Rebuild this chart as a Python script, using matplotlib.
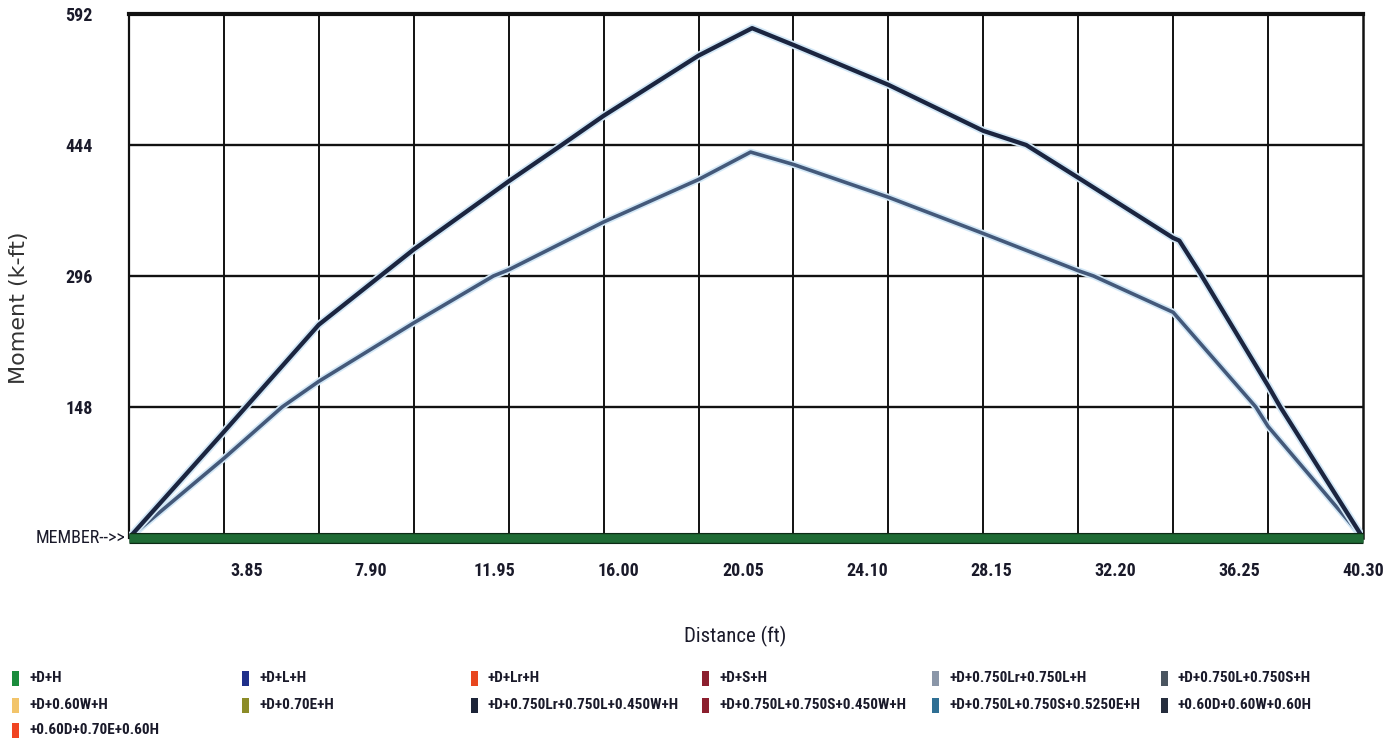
import matplotlib
matplotlib.use("Agg")
import matplotlib.pyplot as plt
from matplotlib import font_manager
from matplotlib.patches import Rectangle
import matplotlib.patheffects as pe

# ---------------- data ----------------
x_upper = [0, 3.1, 6.2, 9.3, 12.4, 14.13, 15.5, 18.6, 20.35, 21.7,
           24.8, 27.9, 29.3, 31.0, 34.1, 34.3, 35.0, 37.2, 37.6, 40.3]
y_upper = [0, 120, 241, 326, 403, 444, 477, 545, 576, 557,
           512, 460, 444, 407, 339, 336, 298, 172, 148, 0]

x_lower = [0, 3.1, 5.0, 6.2, 9.3, 11.9, 12.4, 15.5, 18.6, 20.3, 21.7,
           24.8, 27.9, 31.0, 31.5, 34.1, 36.8, 37.2, 40.3]
y_lower = [0, 90, 148, 177, 243, 296, 303, 357, 405, 436, 422,
           385, 344, 302, 296, 255, 148, 126, 0]

x_tick_vals = [3.85, 7.90, 11.95, 16.00, 20.05, 24.10, 28.15, 32.20, 36.25, 40.30]
x_tick_labels = ["3.85", "7.90", "11.95", "16.00", "20.05", "24.10", "28.15",
                 "32.20", "36.25", "40.30"]
x_grid_step = 3.1
x_max = 40.30
y_tick_vals = [148, 296, 444, 592]
y_tick_labels = ["148", "296", "444", "592"]
y_max = 592

legend_labels = [
    "+D+H", "+D+L+H", "+D+Lr+H", "+D+S+H", "+D+0.750Lr+0.750L+H", "+D+0.750L+0.750S+H",
    "+D+0.60W+H", "+D+0.70E+H", "+D+0.750Lr+0.750L+0.450W+H", "+D+0.750L+0.750S+0.450W+H",
    "+D+0.750L+0.750S+0.5250E+H", "+0.60D+0.60W+0.60H",
    "+0.60D+0.70E+0.60H",
]
legend_colors = [
    "#1a8c3c", "#1f2f8a", "#e8461e", "#8c1f2e", "#8a96a8", "#4a5560",
    "#f2c46a", "#8c8c28", "#1c2438", "#8c1f2e", "#2f6f94", "#252d3d",
    "#f04422",
]

# ---------------- fonts ----------------
def pick(fams):
    for f in fams:
        try:
            font_manager.findfont(font_manager.FontProperties(family=f),
                                  fallback_to_default=False)
            return f
        except Exception:
            pass
    return "DejaVu Sans"

narrow = pick(["Liberation Sans Narrow", "Roboto Condensed", "DejaVu Sans"])
wide = pick(["DejaVu Sans"])

W, H = 1389, 744
fig = plt.figure(figsize=(W / 100, H / 100), dpi=100)
fig.patch.set_facecolor("white")

L, R, T, B = 129, 1363, 14, 538
ax = fig.add_axes([L / W, 1 - B / H, (R - L) / W, (B - T) / H])
ax.set_xlim(0, x_max)
ax.set_ylim(0, y_max)

# grid
for k in range(1, 13):
    ax.axvline(k * x_grid_step, color="#111111", lw=1.4, zorder=1)
for v in y_tick_vals[:-1]:
    ax.axhline(v, color="#111111", lw=1.7, zorder=1)

for s in ax.spines.values():
    s.set_color("#111111")
ax.spines["top"].set_linewidth(3.0)
ax.spines["left"].set_linewidth(1.6)
ax.spines["right"].set_linewidth(1.8)
ax.spines["bottom"].set_visible(False)

# curves
ax.plot(x_lower, y_lower, color="#44597a", lw=2.6, zorder=3, solid_joinstyle="round",
        path_effects=[pe.Stroke(linewidth=5.0, foreground="#d3e8f7"), pe.Normal()])
ax.plot(x_upper, y_upper, color="#1b2540", lw=3.1, zorder=4, solid_joinstyle="round",
        path_effects=[pe.Stroke(linewidth=5.6, foreground="#d3e8f7"), pe.Normal()])

# member band
ax.axhline(0, color="#1f6b35", lw=6.2, zorder=5, clip_on=False, solid_capstyle="butt",
           path_effects=[pe.Stroke(linewidth=8.0, foreground="#0d2a16",
                                   capstyle="butt"), pe.Normal()])

# ticks
ax.set_xticks(x_tick_vals)
ax.set_xticklabels(x_tick_labels, fontfamily=narrow, fontsize=13, fontweight="bold",
                   color="#1a1a2a")
ax.set_yticks(y_tick_vals)
ax.set_yticklabels(y_tick_labels, fontfamily=narrow, fontsize=13, fontweight="bold",
                   color="#1a1a2a")
ax.tick_params(axis="x", length=0, pad=17)
ax.tick_params(axis="y", length=0, pad=26)

ax.text(-0.003, 0, "MEMBER-->>", transform=ax.get_yaxis_transform(),
        ha="right", va="center", fontfamily=narrow, fontsize=13, color="#1a1a2a")

fig.text(735 / W, 1 - 636 / H, "Distance (ft)", ha="center", va="center",
         fontfamily=narrow, fontsize=15, color="#1a1a2a")
fig.text(19 / W, 1 - 308 / H, "Moment (k-ft)", ha="center", va="center",
         rotation=90, fontfamily=wide, fontsize=16, color="#333333")

# legend (fixed grid layout)
col_text_x = [29, 259, 488, 719, 949, 1178]
row_y = [678, 705, 730]
for i, (lab, col) in enumerate(zip(legend_labels, legend_colors)):
    r, c = divmod(i, 6)
    tx = col_text_x[c]
    ty = row_y[r]
    fig.patches.append(Rectangle(((tx - 17) / W, 1 - (ty + 8) / H), 7 / W, 15 / H,
                                 transform=fig.transFigure, facecolor=col,
                                 edgecolor="none"))
    fig.text(tx / W, 1 - ty / H, lab, ha="left", va="center",
             fontfamily=narrow, fontsize=11, fontweight="bold", color="#1a1a2a")

fig.savefig("out.png", dpi=100, facecolor="white")
